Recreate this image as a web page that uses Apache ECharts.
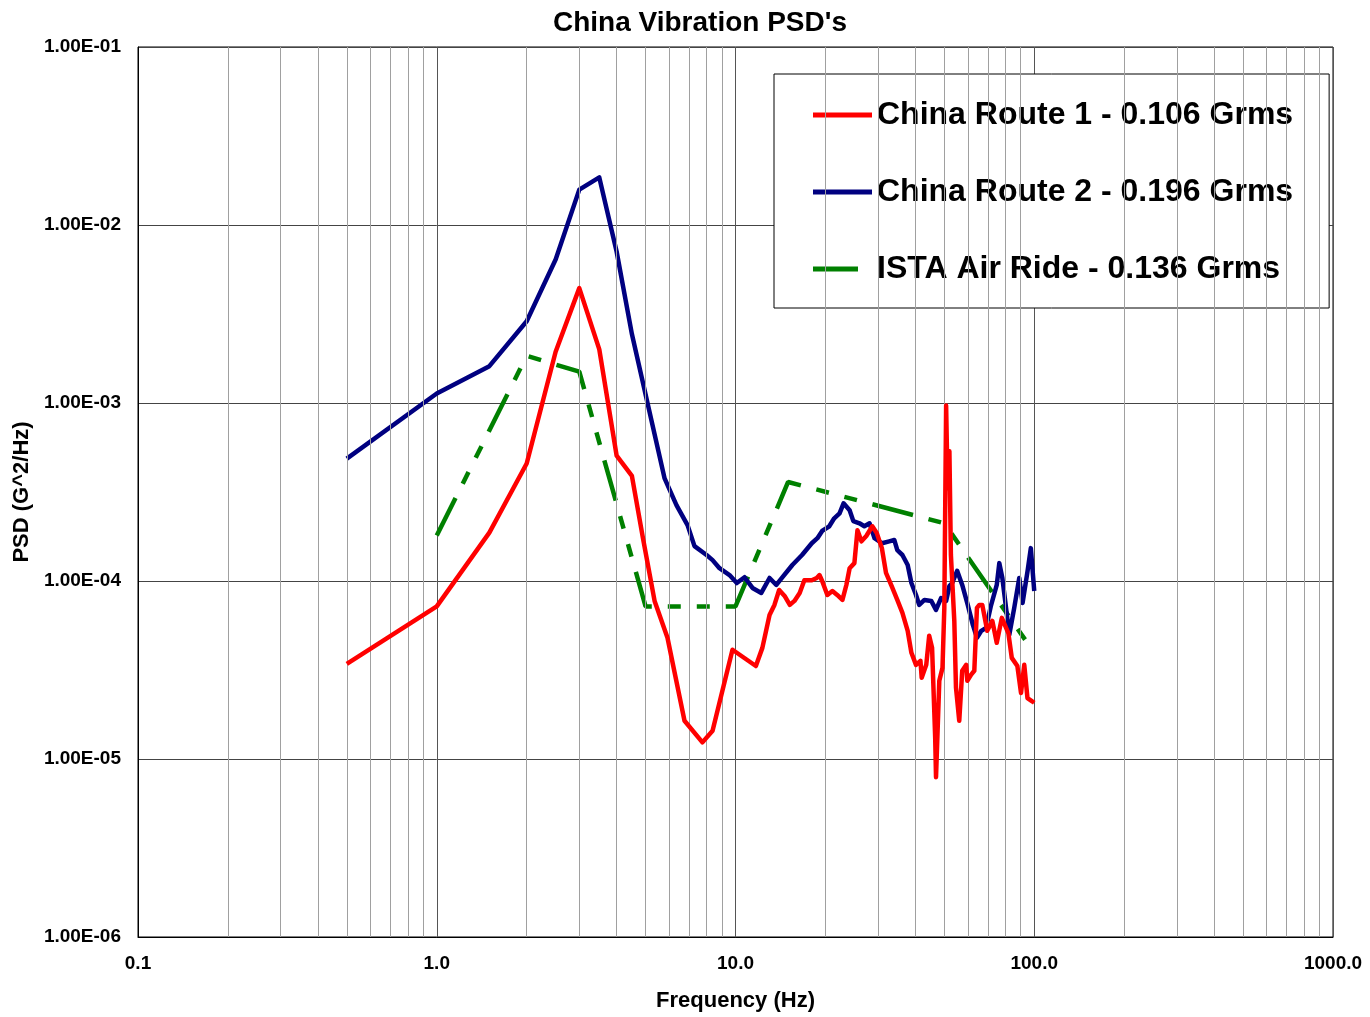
<!DOCTYPE html>
<html>
<head>
<meta charset="utf-8">
<script src="https://cdn.jsdelivr.net/npm/echarts@6/dist/echarts.min.js"></script>
<style>
html,body{margin:0;padding:0;background:#fff;}
#chart{width:1370px;height:1017px;}
</style>
</head>
<body>
<div id="chart"></div>
<script>
// ---- data ----
const route1Freq = [0.5,1.0,1.5,2.0,2.5,3.0,3.5,4.0,4.5,4.9,5.36,5.92,6.75,7.75,8.38,9.77,11.7,12.3,13.0,13.5,14.0,14.6,15.2,15.75,16.4,17.0,18.0,18.7,19.1,19.5,20.3,21.1,21.9,22.8,23.5,24.1,25.0,25.6,26.4,27.4,28.7,29.7,30.9,31.9,33.3,34.8,36.2,37.7,38.8,40.2,41.6,42.0,43.5,44.5,45.5,46.6,46.9,48.1,49.3,50.0,50.7,51.3,52.0,52.6,54.0,54.7,56.1,57.4,59.2,59.7,61.5,63.0,64.3,65.5,67.0,69.6,72.4,74.9,77.9,81.9,84.1,87.8,90.3,92.6,94.9,97.6,100];
const route1Psd = [3.42e-5,7.2e-5,1.87e-4,4.57e-4,1.94e-3,4.42e-3,2.0e-3,5.06e-4,3.9e-4,1.74e-4,7.73e-5,4.8e-5,1.64e-5,1.24e-5,1.44e-5,4.11e-5,3.33e-5,4.21e-5,6.45e-5,7.34e-5,8.9e-5,8.24e-5,7.34e-5,7.73e-5,8.57e-5,1.01e-4,1.01e-4,1.04e-4,1.08e-4,1.0e-4,8.35e-5,8.79e-5,8.35e-5,7.83e-5,9.5e-5,1.18e-4,1.26e-4,1.93e-4,1.67e-4,1.79e-4,2.03e-4,1.86e-4,1.53e-4,1.11e-4,9.38e-5,7.83e-5,6.62e-5,5.25e-5,3.95e-5,3.38e-5,3.56e-5,2.86e-5,3.38e-5,4.92e-5,4.21e-5,1.32e-5,7.9e-6,2.75e-5,3.25e-5,7.06e-5,9.67e-4,3.32e-4,5.35e-4,1.4e-4,5.97e-5,2.52e-5,1.64e-5,3.13e-5,3.38e-5,2.75e-5,2.98e-5,3.13e-5,7.06e-5,7.34e-5,7.34e-5,5.25e-5,5.97e-5,4.5e-5,6.21e-5,5.1e-5,3.7e-5,3.33e-5,2.35e-5,3.38e-5,2.2e-5,2.13e-5,2.07e-5];

const route2Freq = [0.5,1.0,1.5,2.0,2.5,3.0,3.5,4.0,4.5,5.79,6.35,6.91,7.29,8.0,8.38,8.84,9.55,10.1,10.72,11.4,12.2,13.0,13.7,14.3,15.5,16.7,18.0,18.8,19.5,20.6,21.4,22.3,23.0,24.1,24.8,26.0,27.0,28.1,29.2,30.9,32.7,34.0,34.8,36.2,37.7,38.8,40.2,41.2,42.9,45.2,46.9,48.8,50.7,52.0,53.1,55.2,57.4,59.9,62.3,64.3,66.5,69.0,71.6,74.9,76.4,78.2,80.7,82.5,85.7,89.1,91.4,95.0,97.4,100];
const route2Psd = [4.87e-4,1.13e-3,1.61e-3,2.88e-3,6.4e-3,1.58e-2,1.85e-2,7.1e-3,2.44e-3,3.77e-4,2.66e-4,2.06e-4,1.57e-4,1.4e-4,1.31e-4,1.18e-4,1.08e-4,9.74e-5,1.05e-4,9.14e-5,8.57e-5,1.04e-4,9.5e-5,1.04e-4,1.23e-4,1.4e-4,1.63e-4,1.74e-4,1.91e-4,2.03e-4,2.25e-4,2.4e-4,2.73e-4,2.5e-4,2.17e-4,2.11e-4,2.03e-4,2.11e-4,1.74e-4,1.63e-4,1.67e-4,1.7e-4,1.49e-4,1.4e-4,1.23e-4,9.74e-5,8.35e-5,7.34e-5,7.83e-5,7.73e-5,6.88e-5,8.03e-5,7.73e-5,9.38e-5,9.74e-5,1.14e-4,9.5e-5,7.34e-5,5.67e-5,4.8e-5,5.25e-5,5.46e-5,7.25e-5,9.5e-5,1.26e-4,1.04e-4,6.79e-5,4.99e-5,7.06e-5,1.04e-4,7.53e-5,1.14e-4,1.53e-4,8.79e-5];

const istaFreq = [1,2,3,5,10,15,50,100];
const istaPsd = [1.8e-4,1.84e-3,1.5e-3,7.2e-5,7.2e-5,3.6e-4,2.11e-4,3.95e-5];

const seriesNames = ['China Route 1 - 0.106 Grms','China Route 2 - 0.196 Grms','ISTA Air Ride - 0.136 Grms'];

const xTickLabels = ['0.1','1.0','10.0','100.0','1000.0'];
const yTickLabels = ['1.00E-06','1.00E-05','1.00E-04','1.00E-03','1.00E-02','1.00E-01'];
const minorX = [0.2,0.3,0.4,0.5,0.6,0.7,0.8,0.9,2,3,4,5,6,7,8,9,20,30,40,50,60,70,80,90,200,300,400,500,600,700,800,900];

// ---- chart ----
const FONT = "'Liberation Sans', Arial, sans-serif";
const zip = (a, b) => a.map((v, i) => [v, b[i]]);

const chart = echarts.init(document.getElementById('chart'), null, {renderer: 'canvas'});
chart.setOption({
  animation: false,
  backgroundColor: '#ffffff',
  title: {
    text: "China Vibration PSD's",
    left: 553, top: 9, padding: 0,
    textStyle: {fontFamily: FONT, fontSize: 28, fontWeight: 'bold', color: '#000'}
  },
  legend: {
    data: [
      {name: seriesNames[0], icon: 'rect'},
      {name: seriesNames[1], icon: 'rect'},
      {name: seriesNames[2], icon: 'path://M0,0H45V5H0Z M59,0L59,5'}
    ],
    orient: 'vertical',
    left: 774, top: 74,
    padding: [25, 36, 23, 39],
    itemWidth: 59, itemHeight: 5, itemGap: 45,
    backgroundColor: '#ffffff', borderColor: '#000', borderWidth: 1, borderRadius: 0,
    textStyle: {fontFamily: FONT, fontSize: 32, fontWeight: 'bold', color: '#000', lineHeight: 32},
    selectedMode: false
  },
  grid: {left: 138, top: 47, right: 37, bottom: 75, show: true, borderColor: '#000', borderWidth: 1, containLabel: false},
  xAxis: {
    type: 'log', logBase: 10, min: 0.1, max: 1000,
    name: 'Frequency (Hz)', nameLocation: 'middle', nameGap: 53,
    nameTextStyle: {fontFamily: FONT, fontSize: 22, fontWeight: 'bold', color: '#000'},
    axisLine: {show: true, lineStyle: {color: '#000', width: 1}},
    axisTick: {show: false},
    axisLabel: {
      margin: 17, fontFamily: FONT, fontSize: 19, fontWeight: 'bold', color: '#000',
      formatter: v => xTickLabels[Math.round(Math.log10(v)) + 1] || ''
    },
    splitLine: {show: true, lineStyle: {color: '#555', width: 1}}
  },
  yAxis: {
    type: 'log', logBase: 10, min: 1e-6, max: 0.1,
    name: 'PSD (G^2/Hz)', nameLocation: 'middle', nameGap: 103, nameRotate: 90,
    nameTextStyle: {fontFamily: FONT, fontSize: 22, fontWeight: 'bold', color: '#000'},
    axisLine: {show: true, lineStyle: {color: '#000', width: 1}},
    axisTick: {show: false},
    axisLabel: {
      margin: 17, fontFamily: FONT, fontSize: 19, fontWeight: 'bold', color: '#000',
      formatter: v => yTickLabels[Math.round(Math.log10(v)) + 6] || ''
    },
    splitLine: {show: true, lineStyle: {color: '#444', width: 1}}
  },
  series: [
    {
      name: 'minor-grid', type: 'line', data: [], z: 1, silent: true,
      markLine: {
        silent: true, symbol: ['none', 'none'], animation: false,
        label: {show: false},
        lineStyle: {color: '#a0a0a0', width: 1, type: 'solid'},
        emphasis: {disabled: true},
        data: minorX.map(v => ({xAxis: v}))
      }
    },
    {
      name: seriesNames[2], type: 'line', data: zip(istaFreq, istaPsd), symbol: 'none', z: 3,
      lineStyle: {color: '#008000', width: 4.5, type: [42, 16, 13, 16, 13, 16], cap: 'butt'},
      itemStyle: {color: '#008000'}
    },
    {
      name: seriesNames[1], type: 'line', data: zip(route2Freq, route2Psd), symbol: 'none', z: 4,
      lineStyle: {color: '#000080', width: 4.5, join: 'round'},
      itemStyle: {color: '#000080'}
    },
    {
      name: seriesNames[0], type: 'line', data: zip(route1Freq, route1Psd), symbol: 'none', z: 5,
      lineStyle: {color: '#ff0000', width: 4.5, join: 'round'},
      itemStyle: {color: '#ff0000'}
    }
  ]
});
</script>
</body>
</html>
